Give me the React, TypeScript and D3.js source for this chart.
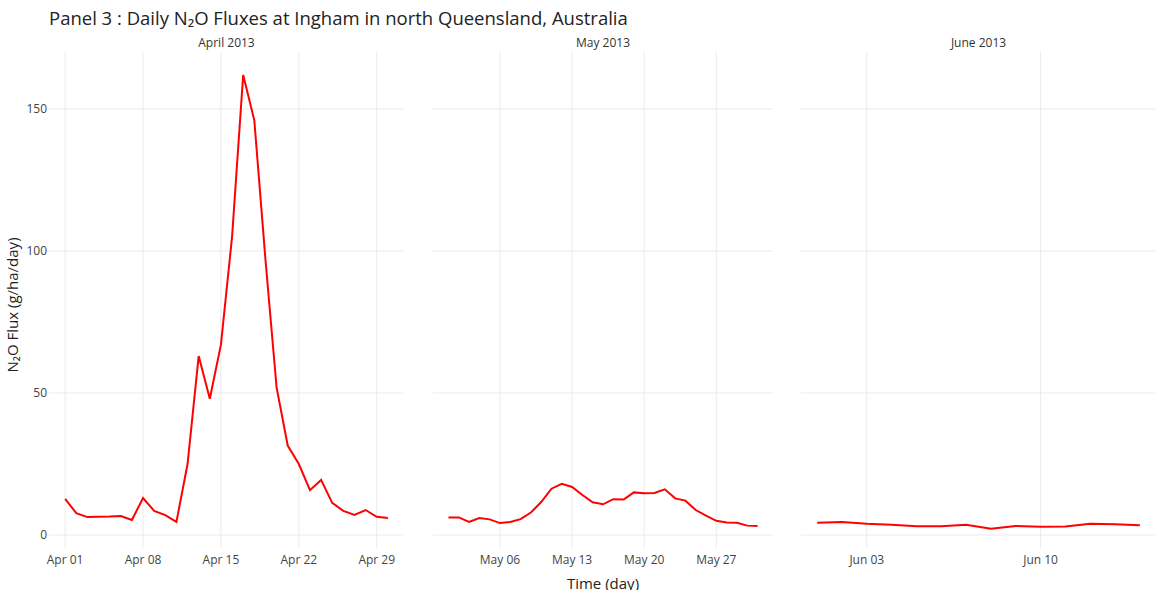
import React from 'react';
import * as d3 from 'd3';

const aprilValues = [12.7, 7.7, 6.3, 6.4, 6.5, 6.7, 5.3, 13, 8.5, 7, 4.6, 25, 63, 48, 67, 105, 162, 146, 97, 52, 31.5, 25, 15.8, 19.4, 11.3, 8.5, 7.1, 8.8, 6.4, 6];
const mayValues = [6.2, 6.2, 4.6, 6, 5.5, 4.2, 4.6, 5.6, 7.9, 11.6, 16.3, 18, 16.9, 14.1, 11.5, 10.8, 12.6, 12.5, 15, 14.7, 14.8, 16.1, 12.9, 12.1, 8.8, 6.8, 5, 4.4, 4.3, 3.3, 3.2];
const juneValues = [4.3, 4.6, 4.0, 3.6, 3.1, 3.1, 3.6, 2.2, 3.2, 2.9, 3.0, 4.0, 3.8, 3.4];
const yTicks = [0, 50, 100, 150];

const panels = [
  { label: 'April 2013', month: 3, values: aprilValues, ticks: [1, 8, 15, 22, 29], fmt: 'Apr' },
  { label: 'May 2013', month: 4, values: mayValues, ticks: [6, 13, 20, 27], fmt: 'May' },
  { label: 'June 2013', month: 5, values: juneValues, ticks: [3, 10], fmt: 'Jun' },
];

const font = '"Open Sans", "Noto Sans", sans-serif';

const App: React.FC = () => {
  const W = 1163, H = 590;
  const top = 52, bottom = 548;
  const y = d3.scaleLinear().domain([0, 150]).range([535, 109]);
  const ranges: [number, number][] = [[49, 404], [433, 773], [801, 1156]];

  return (
    <svg width={W} height={H} style={{ position: 'absolute', left: 0, top: 0 }} fontFamily={font}>
      <rect width={W} height={H} fill="#fff" />
      <text x={49} y={25} fontSize={18.5} fill="#222">Panel 3 : Daily N₂O Fluxes at Ingham in north Queensland, Australia</text>
      {panels.map((p, i) => {
        const [l, r] = ranges[i];
        const dates = p.values.map((_, k) => new Date(2013, p.month, k + 1));
        const first = dates[0].getTime(), last = dates[dates.length - 1].getTime();
        const pad = (last - first) * 0.05;
        const x = d3.scaleTime().domain([new Date(first - pad), new Date(last + pad)]).range([l, r]);
        const line = d3.line<number>().x((_, k) => x(dates[k])).y(v => y(v));
        return (
          <g key={p.label}>
            <text x={(l + r) / 2} y={47} fontSize={12} textAnchor="middle" fill="#333">{p.label}</text>
            {yTicks.map(t => (
              <line key={t} x1={l} x2={r} y1={y(t)} y2={y(t)} stroke="#ebebeb" />
            ))}
            {p.ticks.map(d => {
              const xv = x(new Date(2013, p.month, d));
              return (
                <g key={d}>
                  <line x1={xv} x2={xv} y1={top} y2={bottom} stroke="#ebebeb" />
                  <text x={xv} y={564} fontSize={12} textAnchor="middle" fill="#444">{`${p.fmt} ${String(d).padStart(2, '0')}`}</text>
                </g>
              );
            })}
            <path d={line(p.values) || ''} fill="none" stroke="#ff0000" strokeWidth={2} />
          </g>
        );
      })}
      {yTicks.map(t => (
        <text key={t} x={47} y={y(t) + 4} fontSize={12} textAnchor="end" fill="#444">{t}</text>
      ))}
      <text x={603} y={589} fontSize={15} textAnchor="middle" fill="#222">Time (day)</text>
      <text transform="translate(18,305) rotate(-90)" fontSize={15} textAnchor="middle" fill="#222">N₂O Flux (g/ha/day)</text>
    </svg>
  );
};

export default App;
